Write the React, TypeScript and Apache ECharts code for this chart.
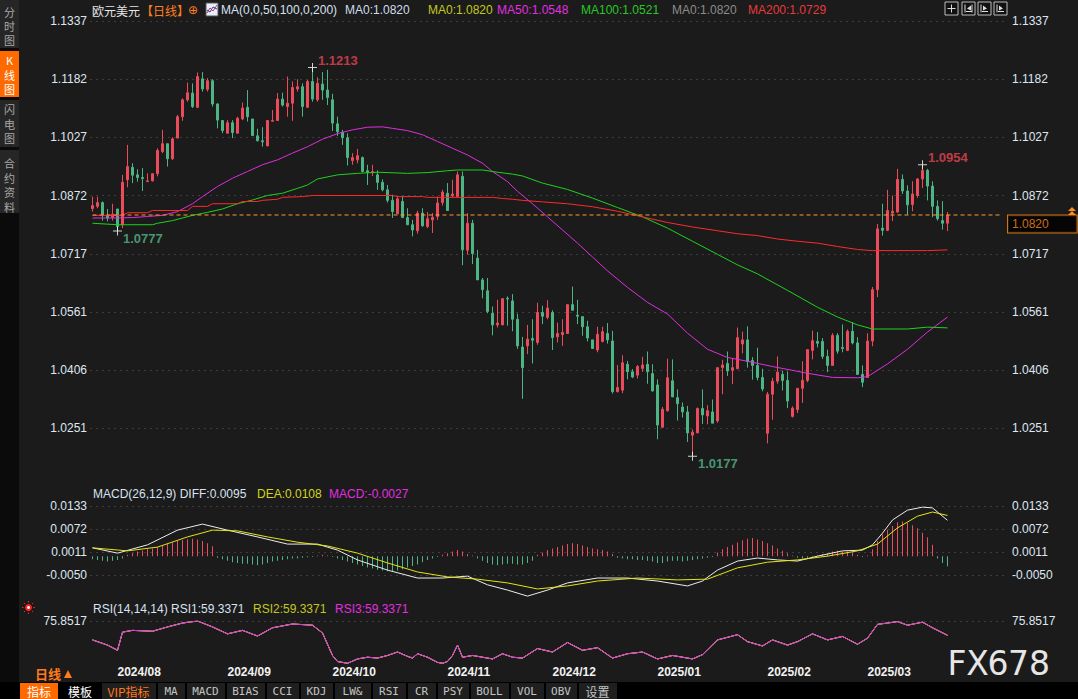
import React, { useEffect, useRef } from "react";
import * as echarts from "echarts";

const RED = "#eb4b5b";
const GREEN = "#4db584";
const BG = "#1b1b1b";
const AXIS_TXT = "#dfe7f1";
const NUM_FONT = "'Liberation Sans', 'Noto Sans CJK SC', sans-serif";
const CJK_FONT = "'Noto Sans CJK SC', 'Liberation Sans', sans-serif";

const START_DATE = "2024-07-25";
const END_DATE = "2025-03-25";
const HOLIDAYS = ["2024-12-25", "2025-01-01"];
const PAD_SLOTS = 11;

// [open, close, low, high]
const ohlc: number[][] = [
  [1.0837, 1.0845, 1.0829, 1.0869], [1.0843, 1.0853, 1.0838, 1.0869], [1.0853, 1.082, 1.0805, 1.0856], [1.0819, 1.0812, 1.0803, 1.0836],
  [1.0814, 1.0822, 1.0805, 1.085], [1.0836, 1.0789, 1.0777, 1.0836], [1.0794, 1.0907, 1.0785, 1.0927], [1.0914, 1.0949, 1.0894, 1.1007],
  [1.0947, 1.0926, 1.0905, 1.0958], [1.0927, 1.092, 1.0909, 1.0942], [1.092, 1.0917, 1.0884, 1.0945], [1.0909, 1.0911, 1.0909, 1.0931],
  [1.0911, 1.093, 1.0909, 1.0931], [1.093, 1.0992, 1.0923, 1.0998], [1.0989, 1.101, 1.0985, 1.1047], [1.101, 1.097, 1.0949, 1.101],
  [1.097, 1.1023, 1.0967, 1.1027], [1.1025, 1.1082, 1.1025, 1.1087], [1.1082, 1.1127, 1.1071, 1.1131], [1.1127, 1.1146, 1.1122, 1.1173],
  [1.1145, 1.1109, 1.1105, 1.1171], [1.1107, 1.1189, 1.1105, 1.12], [1.1183, 1.1156, 1.1149, 1.1201], [1.1155, 1.1178, 1.1149, 1.1185],
  [1.1178, 1.1116, 1.1109, 1.1182], [1.1116, 1.1073, 1.1051, 1.1118], [1.1072, 1.1045, 1.1038, 1.1072], [1.1038, 1.1066, 1.1038, 1.1073],
  [1.1066, 1.104, 1.1025, 1.1073], [1.1038, 1.1078, 1.1038, 1.1082], [1.1076, 1.1105, 1.1073, 1.112], [1.1107, 1.1082, 1.1069, 1.1153],
  [1.1076, 1.1032, 1.1031, 1.1076], [1.1031, 1.1018, 1.1016, 1.105], [1.1018, 1.1015, 1.1002, 1.1054], [1.1004, 1.1072, 1.1004, 1.1073],
  [1.107, 1.1072, 1.107, 1.11], [1.1072, 1.1129, 1.1072, 1.1145], [1.1129, 1.1113, 1.1109, 1.1146], [1.1109, 1.1118, 1.1082, 1.1189],
  [1.1118, 1.116, 1.1071, 1.1176], [1.1156, 1.1162, 1.1149, 1.1182], [1.1162, 1.1109, 1.1082, 1.1171], [1.1107, 1.1176, 1.1105, 1.118],
  [1.1176, 1.1129, 1.1122, 1.1213], [1.1127, 1.1171, 1.1122, 1.1187], [1.1169, 1.1153, 1.1127, 1.1201], [1.1153, 1.1133, 1.1113, 1.1207],
  [1.1127, 1.1065, 1.1044, 1.1143], [1.1063, 1.1042, 1.1031, 1.1082], [1.1041, 1.1026, 1.1007, 1.1047], [1.1026, 1.0973, 1.0952, 1.1038],
  [1.0965, 1.0973, 1.0954, 1.0985], [1.0967, 1.0978, 1.0958, 1.0996], [1.0973, 1.0936, 1.0934, 1.0976], [1.0938, 1.0933, 1.09, 1.0954],
  [1.0933, 1.0936, 1.0924, 1.0954], [1.0927, 1.0907, 1.0887, 1.0939], [1.0907, 1.0887, 1.0883, 1.0915], [1.0887, 1.0859, 1.0853, 1.09],
  [1.0859, 1.0829, 1.0812, 1.0874], [1.0823, 1.0863, 1.0823, 1.0869], [1.0856, 1.0813, 1.0812, 1.0869], [1.0813, 1.0794, 1.0794, 1.0838],
  [1.0794, 1.078, 1.0763, 1.0807], [1.0778, 1.0825, 1.077, 1.0831], [1.0825, 1.0791, 1.0789, 1.0838], [1.0789, 1.081, 1.0785, 1.0828],
  [1.0807, 1.0814, 1.0772, 1.0825], [1.0816, 1.0852, 1.0807, 1.0869], [1.0853, 1.0881, 1.0845, 1.0887], [1.0878, 1.0832, 1.0832, 1.0905],
  [1.0871, 1.0876, 1.0867, 1.0914], [1.0869, 1.0927, 1.0869, 1.0936], [1.0923, 1.0727, 1.0686, 1.0936], [1.0726, 1.0798, 1.0714, 1.0825],
  [1.0798, 1.0717, 1.0689, 1.0807], [1.0705, 1.0647, 1.0647, 1.0727], [1.0647, 1.0621, 1.0598, 1.0652], [1.0618, 1.0563, 1.0558, 1.0652],
  [1.0558, 1.0527, 1.0499, 1.0576], [1.0527, 1.0532, 1.052, 1.0594], [1.0527, 1.0597, 1.0527, 1.0598], [1.0598, 1.0596, 1.0525, 1.0603],
  [1.0591, 1.0542, 1.051, 1.0609], [1.0542, 1.0471, 1.0463, 1.0557], [1.0468, 1.0413, 1.033, 1.0495], [1.0471, 1.0489, 1.0449, 1.0527],
  [1.0491, 1.0486, 1.0424, 1.0542], [1.048, 1.056, 1.0474, 1.0586], [1.056, 1.055, 1.0529, 1.0578], [1.0547, 1.0572, 1.0542, 1.0593],
  [1.056, 1.0493, 1.046, 1.0566], [1.0495, 1.0504, 1.048, 1.0533], [1.0501, 1.0507, 1.0471, 1.0542], [1.0504, 1.0581, 1.0504, 1.0582],
  [1.0581, 1.0566, 1.0566, 1.0629], [1.0553, 1.055, 1.0529, 1.0594], [1.0549, 1.0522, 1.0498, 1.0549], [1.0522, 1.0492, 1.0483, 1.0538],
  [1.0487, 1.0464, 1.0464, 1.0487], [1.046, 1.0502, 1.0454, 1.0522], [1.0483, 1.0509, 1.048, 1.0522], [1.0504, 1.0487, 1.0477, 1.0532],
  [1.0484, 1.0349, 1.0344, 1.0511], [1.0349, 1.036, 1.0347, 1.042], [1.0353, 1.0426, 1.0345, 1.0446], [1.0422, 1.0402, 1.0382, 1.0431],
  [1.0402, 1.0388, 1.0385, 1.0409], [1.0393, 1.0416, 1.0384, 1.042], [1.0411, 1.042, 1.0402, 1.0442], [1.0422, 1.0402, 1.037, 1.0456],
  [1.0397, 1.0351, 1.0349, 1.0422], [1.0367, 1.026, 1.0222, 1.0382], [1.0254, 1.0302, 1.0254, 1.0308], [1.0298, 1.0386, 1.0296, 1.0437],
  [1.0378, 1.0335, 1.0335, 1.0435], [1.0333, 1.0317, 1.0272, 1.0355], [1.0308, 1.0295, 1.028, 1.032], [1.0295, 1.0239, 1.0215, 1.0311],
  [1.0233, 1.0241, 1.0177, 1.0248], [1.0239, 1.0304, 1.0239, 1.0307], [1.0304, 1.0287, 1.0263, 1.0355], [1.0284, 1.0298, 1.0262, 1.0313],
  [1.0295, 1.0265, 1.0265, 1.0328], [1.0271, 1.0413, 1.0266, 1.0413], [1.0413, 1.042, 1.0342, 1.0434], [1.0424, 1.0404, 1.0391, 1.0456],
  [1.0406, 1.0413, 1.0369, 1.0438], [1.041, 1.0493, 1.041, 1.052], [1.0476, 1.0487, 1.0451, 1.0509], [1.0487, 1.0429, 1.0413, 1.0523],
  [1.0432, 1.0419, 1.0381, 1.0441], [1.0419, 1.0387, 1.0379, 1.0466], [1.0387, 1.0356, 1.035, 1.041], [1.0238, 1.0342, 1.0211, 1.0348],
  [1.0342, 1.0377, 1.0274, 1.0386], [1.0377, 1.0401, 1.037, 1.0443], [1.0395, 1.0379, 1.0352, 1.0405], [1.0379, 1.0324, 1.0305, 1.0403],
  [1.0283, 1.0305, 1.028, 1.031], [1.0301, 1.0358, 1.0292, 1.0358], [1.0358, 1.0379, 1.0319, 1.043], [1.0379, 1.0461, 1.0374, 1.0461],
  [1.0459, 1.0485, 1.0435, 1.0512], [1.0483, 1.0478, 1.0467, 1.0508], [1.0483, 1.0443, 1.0436, 1.0492], [1.0443, 1.0419, 1.0401, 1.0461],
  [1.0419, 1.0499, 1.0419, 1.0505], [1.0499, 1.0457, 1.045, 1.0505], [1.0467, 1.0464, 1.0454, 1.0528], [1.0459, 1.051, 1.0457, 1.0515],
  [1.051, 1.0479, 1.0475, 1.0534], [1.0479, 1.0395, 1.0395, 1.0494], [1.0395, 1.0374, 1.0361, 1.0419], [1.0387, 1.0484, 1.0387, 1.0505],
  [1.0484, 1.0621, 1.047, 1.0628], [1.0621, 1.0783, 1.0601, 1.0796], [1.0785, 1.0779, 1.0765, 1.085], [1.0779, 1.0832, 1.0777, 1.0887],
  [1.0825, 1.083, 1.0804, 1.0872], [1.0828, 1.0915, 1.0826, 1.0943], [1.0915, 1.0884, 1.0876, 1.0928], [1.0884, 1.0847, 1.0821, 1.0899],
  [1.0848, 1.0876, 1.083, 1.091], [1.0872, 1.0916, 1.0866, 1.0918], [1.0916, 1.0939, 1.0892, 1.0954], [1.0939, 1.0897, 1.0859, 1.0943],
  [1.0897, 1.0843, 1.0814, 1.091], [1.0843, 1.081, 1.0805, 1.0859], [1.0805, 1.0798, 1.0781, 1.0857], [1.0798, 1.082, 1.0777, 1.0828],
];

// moving averages: [candle index, value]
const ma50: number[][] = [
  [0, 1.0812], [4, 1.0812], [8, 1.0813], [11, 1.0816], [14, 1.0819], [17, 1.0829], [20, 1.085], [22, 1.0869], [25, 1.0896],
  [28, 1.0918], [31, 1.0936], [34, 1.0954], [37, 1.0967], [40, 1.0985], [43, 1.1002], [46, 1.1022], [49, 1.1037], [52, 1.1047],
  [55, 1.1054], [58, 1.1055], [60, 1.1051], [63, 1.1045], [66, 1.1034], [69, 1.1016], [72, 1.0998], [75, 1.098], [78, 1.0958],
  [80, 1.0936], [83, 1.0909], [85, 1.0883], [88, 1.085], [91, 1.0815], [94, 1.078], [97, 1.0745], [100, 1.0708], [103, 1.0671],
  [107, 1.0627], [111, 1.0587], [115, 1.0556], [119, 1.0505], [123, 1.0462], [127, 1.044], [131, 1.043], [136, 1.0416],
  [143, 1.0398], [148, 1.0387], [153, 1.0386], [155, 1.0389], [159, 1.0423], [163, 1.0462], [167, 1.0508], [171, 1.0548],
];
const ma100: number[][] = [
  [0, 1.0798], [5, 1.0794], [12, 1.0794], [13, 1.0798], [16, 1.0805], [18, 1.0812], [20, 1.0819], [23, 1.0827], [26, 1.0836],
  [29, 1.085], [32, 1.086], [35, 1.0872], [38, 1.0878], [41, 1.0891], [43, 1.09], [45, 1.0916], [49, 1.0927], [53, 1.0931],
  [57, 1.0934], [63, 1.0931], [67, 1.0933], [71, 1.0938], [73, 1.094], [78, 1.094], [81, 1.0934], [84, 1.0929], [86, 1.0924],
  [90, 1.0905], [95, 1.0888], [100, 1.0865], [105, 1.084], [110, 1.0815], [115, 1.0785], [120, 1.075], [125, 1.0715],
  [129, 1.0687], [133, 1.0663], [139, 1.0619], [145, 1.0574], [149, 1.0548], [153, 1.0527], [156, 1.0516], [163, 1.0516],
  [167, 1.0521], [171, 1.0519],
];
const ma200: number[][] = [
  [0, 1.0819], [6, 1.0819], [7, 1.0826], [11, 1.0826], [12, 1.0832], [19, 1.0832], [20, 1.0843], [23, 1.0843], [24, 1.085],
  [29, 1.085], [30, 1.0856], [33, 1.0856], [34, 1.0859], [37, 1.0862], [38, 1.0867], [42, 1.0869], [44, 1.0872], [60, 1.0872],
  [61, 1.0869], [66, 1.0869], [67, 1.0867], [80, 1.0867], [82, 1.0864], [84, 1.0862], [86, 1.0859], [90, 1.0855], [95, 1.085],
  [100, 1.0842], [105, 1.083], [110, 1.0815], [115, 1.08], [120, 1.0788], [125, 1.0778], [129, 1.077], [133, 1.0765],
  [137, 1.0756], [141, 1.075], [145, 1.0745], [149, 1.0736], [153, 1.0728], [156, 1.0725], [167, 1.0725], [171, 1.0727],
];

// MACD histogram, one bar per candle
const macdHist: number[] = [
  -0.0008, -0.001, -0.0012, -0.0014, -0.0012, -0.001, -0.0006,
  0.0004, 0.0008, 0.0012, 0.0015, 0.0018, 0.002, 0.0024, 0.0028, 0.0032, 0.0036, 0.004, 0.0043, 0.0045, 0.0046, 0.0044, 0.004, 0.0034, 0.0026,
  -0.0004, -0.0008, -0.0012, -0.0016, -0.0018, -0.002, -0.002, -0.0022, -0.0024, -0.0022, -0.0018, -0.0014, -0.0012, -0.001, -0.0008, -0.0006, -0.0006, -0.0004, -0.0003, -0.0002, 0.0002, 0.0004,
  0.0002, -0.0002,
  -0.0006, -0.001, -0.0014, -0.0018, -0.0022, -0.0026, -0.003, -0.0033, -0.0036, -0.0038, -0.004, -0.004, -0.0038, -0.0035, -0.003, -0.0026, -0.0022, -0.0016, -0.001, -0.0006, -0.0002, 0.0004, 0.0008, 0.0012,
  0.0016, 0.0012, 0.0006, 0.0002,
  -0.0006, -0.0012, -0.0018, -0.0022, -0.0024, -0.0022, -0.002, -0.002, -0.0022, -0.0022, -0.0018, -0.0012,
  0.0004, 0.001, 0.0016, 0.002, 0.0024, 0.0028, 0.0032, 0.0034, 0.0032, 0.0028, 0.0024, 0.002, 0.0018, 0.0016, 0.0012, 0.0006,
  -0.0004, -0.0006, -0.0008, -0.0008, -0.001, -0.001, -0.0012, -0.0014, -0.0018, -0.0018, -0.0014, -0.0012, -0.0012, -0.0014, -0.0012, -0.001, -0.0008, -0.0006, -0.0004, -0.0002,
  0.001, 0.0018, 0.0024, 0.003, 0.0036, 0.0042, 0.0046, 0.0048, 0.0044, 0.004, 0.0034, 0.0028, 0.002, 0.0014, 0.0008, 0.0002,
  -0.0004, -0.0006, -0.0004, -0.0002, 0.0002,
  0.0006, 0.0008, 0.0012, 0.0014, 0.0012, 0.0012, 0.001, 0.0004, -0.0002,
  0.0002, 0.0018, 0.004, 0.0058, 0.007, 0.008, 0.009, 0.0092, 0.0088, 0.0082, 0.0074, 0.0062, 0.005, 0.003,
  -0.0006, -0.0018, -0.0027,
];
const diffLine: number[][] = [
  [0, 0.0022], [5, 0.0008], [11, 0.003], [17, 0.0069], [22, 0.0085], [27, 0.0069], [33, 0.0051], [39, 0.0032], [45, 0.0032],
  [49, 0.0016], [53, -0.001], [59, -0.0037], [65, -0.0058], [70, -0.0058], [75, -0.0053], [79, -0.0076], [83, -0.009],
  [87, -0.0106], [91, -0.009], [95, -0.0071], [101, -0.0058], [107, -0.0058], [113, -0.0066], [119, -0.0079], [122, -0.0066],
  [125, -0.0037], [129, -0.0013], [133, -0.0005], [137, -0.001], [141, -0.0013], [145, 0.0], [150, 0.0014], [154, 0.0016],
  [156, 0.003], [158, 0.0061], [160, 0.0096], [163, 0.0122], [166, 0.013], [168, 0.0128], [171, 0.0095],
];
const deaLine: number[][] = [
  [0, 0.0022], [7, 0.0014], [13, 0.0024], [19, 0.0051], [24, 0.0069], [29, 0.0067], [35, 0.0051], [41, 0.0037], [47, 0.0027],
  [53, 0.0008], [59, -0.0018], [65, -0.0042], [71, -0.0055], [77, -0.0061], [83, -0.0071], [89, -0.0087], [95, -0.0079],
  [101, -0.0066], [109, -0.0058], [117, -0.0063], [123, -0.0061], [129, -0.0031], [135, -0.0016], [141, -0.001], [147, 0.0],
  [153, 0.0014], [157, 0.0032], [161, 0.0075], [165, 0.0106], [168, 0.0117], [171, 0.0108],
];
const rsiLine: number[][] = [
  [0, 54], [3, 48], [5, 42], [6, 63], [8, 65], [12, 64], [15, 69], [18, 73.5], [21, 75.85], [24, 69], [27, 61], [30, 65],
  [33, 58.5], [36, 68], [40, 72.4], [44, 71], [46, 62], [48, 36], [49, 29], [51, 27], [53, 32], [55, 34], [57, 33], [59, 36],
  [61, 40], [63, 35], [64, 33], [65, 38], [67, 34], [69, 28], [70, 27], [71, 29], [72, 36], [73, 48], [74, 34], [76, 36],
  [78, 34], [80, 32], [82, 38], [84, 34], [86, 33], [89, 44], [92, 40], [95, 51], [98, 42], [101, 45], [104, 33], [107, 38],
  [110, 40], [113, 32], [116, 36], [119, 33], [120, 32], [122, 37], [125, 54], [129, 60], [131, 52], [134, 47], [136, 54],
  [139, 48], [141, 52], [144, 61], [147, 54], [150, 58], [153, 49], [155, 56], [157, 72], [159, 73.5], [161, 75.2], [163, 71],
  [166, 74.5], [168, 68], [171, 59.34],
];

const extremes = [
  { k: 44, v: 1.1213, color: "#ea4454", dy: -7 },
  { k: 5, v: 1.0777, color: "#55b88a", dy: 7 },
  { k: 120, v: 1.0177, color: "#55b88a", dy: 7 },
  { k: 166, v: 1.0954, color: "#ea4454", dy: -7 },
];
const LAST_PRICE = 1.082;

const PRICE_MAX = 1.13372;
const PRICE_INT = 0.015517;
const PRICE_STEPS = 8;
const MACD_MIN = -0.0111;
const MACD_MAX = 0.0133;
const MACD_INT = 0.0061;
const RSI_MIN = 25;
const RSI_MAX = 75.8517;

const topLegend = [
  { x: 92, t: "欧元美元", c: "#e6e6e6", f: CJK_FONT },
  { x: 141, t: "【日线】", c: "#ff7f1e", f: CJK_FONT },
  { x: 188, t: "⊕", c: "#ff7f1e", f: "'DejaVu Sans', sans-serif" },
  { x: 221, t: "MA(0,0,50,100,0,200)", c: "#d8e2f0", f: NUM_FONT },
  { x: 345, t: "MA0:1.0820", c: "#cfdcee", f: NUM_FONT },
  { x: 428, t: "MA0:1.0820", c: "#c4c81e", f: NUM_FONT },
  { x: 497, t: "MA50:1.0548", c: "#e22ee2", f: NUM_FONT },
  { x: 581, t: "MA100:1.0521", c: "#28c828", f: NUM_FONT },
  { x: 672, t: "MA0:1.0820", c: "#8c8c8c", f: NUM_FONT },
  { x: 748, t: "MA200:1.0729", c: "#e83a3a", f: NUM_FONT },
];
const macdLegend = [
  { x: 93, t: "MACD(26,12,9) DIFF:0.0095", c: "#d8e2f0" },
  { x: 257, t: "DEA:0.0108", c: "#d4d41e" },
  { x: 329, t: "MACD:-0.0027", c: "#e22ee2" },
];
const rsiLegend = [
  { x: 93, t: "RSI(14,14,14) RSI1:59.3371", c: "#d8e2f0" },
  { x: 253, t: "RSI2:59.3371", c: "#c4c81e" },
  { x: 335, t: "RSI3:59.3371", c: "#e22ee2" },
];
const toolbarButtons = [
  { t: "VIP指标", x0: 101, x1: 156, c: "#ff7a1a" },
  { t: "MA", x0: 157, x1: 185 }, { t: "MACD", x0: 186, x1: 225 }, { t: "BIAS", x0: 226, x1: 265 },
  { t: "CCI", x0: 266, x1: 299 }, { t: "KDJ", x0: 300, x1: 333 }, { t: "LW&", x0: 334, x1: 371 },
  { t: "RSI", x0: 372, x1: 406 }, { t: "CR", x0: 407, x1: 436 }, { t: "PSY", x0: 437, x1: 469 },
  { t: "BOLL", x0: 470, x1: 509 }, { t: "VOL", x0: 510, x1: 544 }, { t: "OBV", x0: 545, x1: 577 },
  { t: "设置", x0: 578, x1: 617 },
];
const sideTabs = [
  { chars: ["分", "时", "图"], ys: [12, 26, 40], y0: 0, y1: 48, bg: "#262626", c: "#a8a8a8" },
  { chars: ["K", "线", "图"], ys: [60, 74.5, 89], y0: 51, y1: 97, bg: "#ff6a00", c: "#ffffff" },
  { chars: ["闪", "电", "图"], ys: [109, 123.5, 138], y0: 100, y1: 147, bg: "#262626", c: "#a8a8a8" },
  { chars: ["合", "约", "资", "料"], ys: [163, 177.5, 192, 206.5], y0: 150, y1: 213, bg: "#262626", c: "#a8a8a8" },
];
const WATERMARK = ["F", "X", "6", "7", "8"];
const WATERMARK_X = [957, 977.5, 998, 1018.5, 1039.5];

function tradingDays(start: string, end: string, skip: string[]): string[] {
  const out: string[] = [];
  const d = new Date(start + "T00:00:00Z");
  const e = new Date(end + "T00:00:00Z");
  while (d.getTime() <= e.getTime()) {
    const wd = d.getUTCDay();
    const s = d.toISOString().slice(0, 10);
    if (wd !== 0 && wd !== 6 && skip.indexOf(s) < 0) out.push(s);
    d.setUTCDate(d.getUTCDate() + 1);
  }
  return out;
}

function txt(x: number, y: number, text: string, fill: string, font: string, align = "left", extra: any = {}) {
  return {
    type: "text",
    silent: true,
    style: Object.assign({ x, y, text, fill, font, textAlign: align, textVerticalAlign: "middle", align, verticalAlign: "middle" }, extra),
  };
}

export default function App() {
  const ref = useRef<HTMLDivElement>(null);

  useEffect(() => {
    if (!ref.current) return;
    const chart = echarts.init(ref.current, null, { renderer: "svg" });

    const dates = tradingDays(START_DATE, END_DATE, HOLIDAYS);
    const cats = dates.concat(Array.from({ length: PAD_SLOTS }, (_, i) => "pad" + i));
    const isMonthStart = (i: number) =>
      i > 0 && i < dates.length && dates[i].slice(0, 7) !== dates[i - 1].slice(0, 7);

    const priceMin = +(PRICE_MAX - PRICE_STEPS * PRICE_INT).toFixed(6);
    const fmt4 = (v: number) => v.toFixed(4);
    const lastIdx = cats.length - 1;

    const gridCommon = { left: 90, right: 73 };
    const xBase = (gi: number, showLabel: boolean) => ({
      type: "category",
      gridIndex: gi,
      data: cats,
      boundaryGap: true,
      axisLine: { show: false },
      axisTick: { show: false },
      splitLine: { show: false },
      axisLabel: showLabel
        ? {
            show: true,
            interval: (i: number) => isMonthStart(i),
            formatter: (v: string) => v.slice(0, 4) + "/" + v.slice(5, 7),
            align: "left",
            color: "#f2f2f2",
            fontWeight: "bold",
            fontSize: 12,
            fontFamily: NUM_FONT,
            margin: 1,
          }
        : { show: false },
    });
    const yBase = (gi: number, pos: string, min: number, max: number, interval: number, split: boolean) => ({
      type: "value",
      gridIndex: gi,
      position: pos,
      min,
      max,
      interval,
      scale: true,
      axisLine: { show: false },
      axisTick: { show: false },
      axisLabel: {
        show: true,
        showMinLabel: false,
        formatter: fmt4,
        color: AXIS_TXT,
        fontSize: 12,
        fontFamily: NUM_FONT,
        margin: pos === "left" ? 3 : 7,
      },
      splitLine: split
        ? { show: true, showMinLine: false, lineStyle: { color: "#3d3d3d", type: [2, 4], width: 1 } }
        : { show: false },
    });

    const cross = "path://M4,0H5V4H9V5H5V9H4V5H0V4H4Z";

    const graphic: any[] = [];
    // sidebar
    graphic.push({ type: "rect", silent: true, shape: { x: 0, y: 0, width: 19, height: 699 }, style: { fill: "#0b0b0b" } });
    sideTabs.forEach((s) => {
      graphic.push({ type: "rect", silent: true, shape: { x: 0, y: s.y0, width: 19, height: s.y1 - s.y0 }, style: { fill: s.bg } });
      s.chars.forEach((ch, i) => graphic.push(txt(9.5, s.ys[i], ch, s.c, "11px " + CJK_FONT, "center")));
    });
    // top legend
    topLegend.forEach((l) => graphic.push(txt(l.x, 10, l.t, l.c, "12px " + l.f)));
    graphic.push({ type: "rect", silent: true, shape: { x: 206, y: 3, width: 12, height: 13 }, style: { fill: "#e8eef8", stroke: "#555", lineWidth: 1 } });
    graphic.push({ type: "polyline", silent: true, shape: { points: [[207, 13], [210, 8], [213, 11], [217, 5]] }, style: { stroke: "#e03030", lineWidth: 1, fill: null } });
    graphic.push({ type: "polyline", silent: true, shape: { points: [[207, 10], [210, 12], [213, 7], [217, 9]] }, style: { stroke: "#2040d0", lineWidth: 1, fill: null } });
    // top right icons
    [945, 962, 978, 994].forEach((x, i) => {
      graphic.push({ type: "rect", silent: true, shape: { x, y: 2, width: 13, height: 13 }, style: { fill: "#111", stroke: "#bdbdbd", lineWidth: 1 } });
      const cx = x + 6.5, cy = 8.5;
      if (i === 0) {
        graphic.push({ type: "line", silent: true, shape: { x1: cx, y1: cy - 4, x2: cx, y2: cy + 4 }, style: { stroke: "#ddd", lineWidth: 1 } });
        graphic.push({ type: "line", silent: true, shape: { x1: cx - 4, y1: cy, x2: cx + 4, y2: cy }, style: { stroke: "#ddd", lineWidth: 1 } });
      } else {
        graphic.push({ type: "line", silent: true, shape: { x1: x + 3, y1: cy - 4, x2: x + 3, y2: cy + 4 }, style: { stroke: "#ddd", lineWidth: 1 } });
        graphic.push({ type: "line", silent: true, shape: { x1: x + 4, y1: cy + 3, x2: x + 10, y2: cy + 3 }, style: { stroke: "#ddd", lineWidth: 1 } });
        graphic.push({ type: "polygon", silent: true, shape: { points: i === 1 ? [[x + 5, cy], [x + 9, cy - 3], [x + 9, cy + 2]] : [[x + 9, cy], [x + 5, cy - 3], [x + 5, cy + 2]] }, style: { fill: "#ddd" } });
        if (i === 1) graphic.push({ type: "line", silent: true, shape: { x1: x + 10, y1: cy - 4, x2: x + 10, y2: cy + 4 }, style: { stroke: "#ddd", lineWidth: 1 } });
      }
    });
    // MACD / RSI legends
    macdLegend.forEach((l) => graphic.push(txt(l.x, 494, l.t, l.c, "12px " + NUM_FONT)));
    rsiLegend.forEach((l) => graphic.push(txt(l.x, 609, l.t, l.c, "12px " + NUM_FONT)));
    // RSI sun icon
    graphic.push({ type: "circle", silent: true, shape: { cx: 28.5, cy: 607.5, r: 3.5 }, style: { fill: "#ff2020" } });
    graphic.push({ type: "circle", silent: true, shape: { cx: 28.5, cy: 607.5, r: 1.5 }, style: { fill: "#ffffff" } });
    for (let a = 0; a < 8; a++) {
      const ang = (a * Math.PI) / 4;
      graphic.push({
        type: "line", silent: true,
        shape: { x1: 28.5 + Math.cos(ang) * 5, y1: 607.5 + Math.sin(ang) * 5, x2: 28.5 + Math.cos(ang) * 6.5, y2: 607.5 + Math.sin(ang) * 6.5 },
        style: { stroke: "#ff2020", lineWidth: 1 },
      });
    }
    // last price arrows
    graphic.push({ type: "polygon", silent: true, shape: { points: [[1068, 211], [1076, 211], [1072, 207]] }, style: { fill: "#ff8c1a" } });
    graphic.push({ type: "polygon", silent: true, shape: { points: [[1068, 215], [1076, 215], [1072, 211]] }, style: { fill: "#ff8c1a" } });
    // 日线
    graphic.push(txt(35, 673, "日线", "#ff7a1a", "bold 13px " + CJK_FONT));
    graphic.push({ type: "polygon", silent: true, shape: { points: [[64, 678], [72, 678], [68, 670]] }, style: { fill: "#ff7a1a" } });
    // toolbar
    graphic.push({ type: "rect", silent: true, shape: { x: 0, y: 682, width: 1078, height: 17 }, style: { fill: "#000" } });
    graphic.push({ type: "rect", silent: true, shape: { x: 20, y: 683, width: 38, height: 16 }, style: { fill: "#ff6a00" } });
    graphic.push(txt(39, 691, "指标", "#ffffff", "12px " + CJK_FONT, "center"));
    graphic.push(txt(80, 691, "模板", "#ffffff", "12px " + CJK_FONT, "center"));
    toolbarButtons.forEach((b: any) => {
      graphic.push({ type: "rect", silent: true, shape: { x: b.x0 + 1, y: 683, width: b.x1 - b.x0 - 1, height: 16 }, style: { fill: "#1f1f1f" } });
      const isCjk = /[\u4e00-\u9fff]/.test(b.t);
      graphic.push(txt((b.x0 + b.x1) / 2, 691, b.t, b.c || "#c4c4c4", (isCjk ? "12px " + CJK_FONT : "11px 'DejaVu Sans Mono', monospace"), "center"));
    });
    // watermark
    WATERMARK.forEach((ch, i) => graphic.push(txt(WATERMARK_X[i], 663, ch, "#e6e6e6", "33px 'DejaVu Sans', sans-serif", "center")));

    const option: any = {
      animation: false,
      backgroundColor: BG,
      graphic,
      grid: [
        { ...gridCommon, top: 21, height: PRICE_STEPS * 58.2 },
        { ...gridCommon, top: 506, height: 92 },
        { ...gridCommon, top: 621, height: 44 },
      ],
      xAxis: [xBase(0, false), xBase(1, false), xBase(2, true)],
      yAxis: [
        yBase(0, "left", priceMin, PRICE_MAX, PRICE_INT, true),
        yBase(0, "right", priceMin, PRICE_MAX, PRICE_INT, false),
        yBase(1, "left", MACD_MIN, MACD_MAX, MACD_INT, true),
        yBase(1, "right", MACD_MIN, MACD_MAX, MACD_INT, false),
        yBase(2, "left", RSI_MIN, RSI_MAX, RSI_MAX - RSI_MIN, true),
        yBase(2, "right", RSI_MIN, RSI_MAX, RSI_MAX - RSI_MIN, false),
      ],
      series: [
        {
          type: "candlestick",
          name: "EURUSD",
          xAxisIndex: 0,
          yAxisIndex: 0,
          data: ohlc,
          barWidth: 3,
          itemStyle: { color: RED, color0: GREEN, borderColor: RED, borderColor0: GREEN, borderWidth: 1 },
          z: 3,
        },
        {
          type: "line",
          name: "last",
          xAxisIndex: 0,
          yAxisIndex: 0,
          data: [[0, LAST_PRICE], [lastIdx, LAST_PRICE]],
          symbol: "none",
          lineStyle: { color: "#ff9a2e", type: [4, 3], width: 1 },
          z: 5,
        },
        {
          type: "scatter",
          name: "lastLabel",
          xAxisIndex: 0,
          yAxisIndex: 0,
          symbol: "rect",
          symbolSize: 1,
          itemStyle: { color: "rgba(0,0,0,0)" },
          data: [[lastIdx, LAST_PRICE]],
          z: 7,
          label: {
            show: true,
            position: "right",
            distance: 5,
            formatter: () => LAST_PRICE.toFixed(4),
            color: "#ff8c1a",
            fontSize: 12,
            fontFamily: NUM_FONT,
            backgroundColor: "#000",
            borderColor: "#ff8c1a",
            borderWidth: 1,
            padding: [3, 28, 2, 4],
            offset: [0, 9],
          },
        },
        { type: "line", name: "MA50", xAxisIndex: 0, yAxisIndex: 0, data: ma50, symbol: "none", lineStyle: { color: "#e02ee0", width: 1 }, z: 4 },
        { type: "line", name: "MA100", xAxisIndex: 0, yAxisIndex: 0, data: ma100, symbol: "none", lineStyle: { color: "#1ed21e", width: 1 }, z: 4 },
        { type: "line", name: "MA200", xAxisIndex: 0, yAxisIndex: 0, data: ma200, symbol: "none", lineStyle: { color: "#ff2a2a", width: 1 }, z: 4 },
        {
          type: "scatter",
          name: "extremes",
          xAxisIndex: 0,
          yAxisIndex: 0,
          symbol: cross,
          symbolSize: 9,
          itemStyle: { color: "#ffffff" },
          z: 6,
          data: extremes.map((e) => ({
            value: [e.k, e.v],
            label: { show: true, position: "right", distance: 1, offset: [0, e.dy], color: e.color, formatter: e.v.toFixed(4) },
          })),
          label: { show: true, fontSize: 13, fontWeight: "bold", fontFamily: NUM_FONT },
        },
        {
          type: "bar",
          name: "MACD",
          xAxisIndex: 1,
          yAxisIndex: 2,
          barWidth: 1,
          data: macdHist.map((v) => ({ value: v, itemStyle: { color: v >= 0 ? RED : GREEN } })),
        },
        { type: "line", name: "DIFF", xAxisIndex: 1, yAxisIndex: 2, data: diffLine, symbol: "none", lineStyle: { color: "#ececec", width: 1 } },
        { type: "line", name: "DEA", xAxisIndex: 1, yAxisIndex: 2, data: deaLine, symbol: "none", lineStyle: { color: "#e4e414", width: 1 } },
        { type: "line", name: "RSI1", xAxisIndex: 2, yAxisIndex: 4, data: rsiLine, symbol: "none", lineStyle: { color: "#e8e8e8", width: 1 } },
        { type: "line", name: "RSI2", xAxisIndex: 2, yAxisIndex: 4, data: rsiLine, symbol: "none", lineStyle: { color: "#c4c81e", width: 1 } },
        { type: "line", name: "RSI3", xAxisIndex: 2, yAxisIndex: 4, data: rsiLine, symbol: "none", lineStyle: { color: "#e02ee0", width: 1 } },
      ],
    };

    chart.setOption(option);
    return () => chart.dispose();
  }, []);

  return (
    <div
      ref={ref}
      style={{ position: "fixed", left: 0, top: 0, width: 1078, height: 699, background: BG }}
    />
  );
}
